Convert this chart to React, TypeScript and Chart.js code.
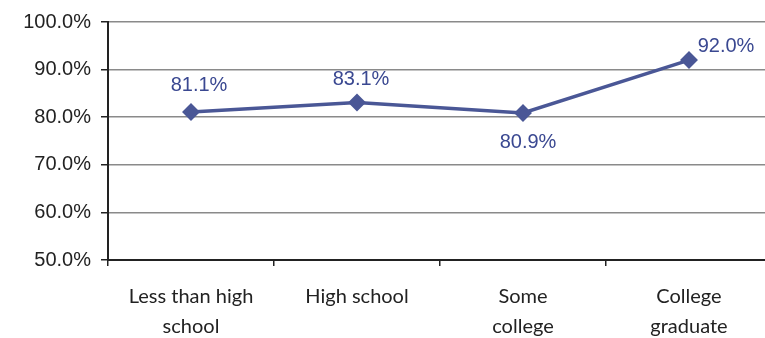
import React, { useEffect, useRef } from "react";
import { Chart, registerables } from "chart.js";

Chart.register(...registerables);

const categories: string[][] = [
  ["Less than high", "school"],
  ["High school"],
  ["Some", "college"],
  ["College", "graduate"],
];
const values: number[] = [81.1, 83.1, 80.9, 92.0];
const yTicks: number[] = [50, 60, 70, 80, 90, 100];

const LINE_COLOR = "#4a5796";
const LABEL_COLOR = "#3a4891";

const labelPlugin = {
  id: "pointLabels",
  afterDatasetsDraw(chart: any) {
    const ctx = chart.ctx;
    const meta = chart.getDatasetMeta(0);
    ctx.save();
    ctx.font = "20px 'Liberation Sans', Arial, sans-serif";
    ctx.fillStyle = LABEL_COLOR;
    ctx.textAlign = "center";
    ctx.textBaseline = "middle";
    const offsets = [
      [8, -26],
      [4, -23],
      [5, 30],
      [37, -14],
    ];
    meta.data.forEach((pt: any, i: number) => {
      const [dx, dy] = offsets[i];
      ctx.fillText(values[i].toFixed(1) + "%", pt.x + dx, pt.y + dy);
    });
    ctx.restore();
  },
};

export default function App() {
  const ref = useRef<HTMLCanvasElement | null>(null);
  useEffect(() => {
    if (!ref.current) return;
    const chart = new Chart(ref.current, {
      type: "line",
      data: {
        labels: categories,
        datasets: [
          {
            data: values,
            borderColor: LINE_COLOR,
            backgroundColor: LINE_COLOR,
            borderWidth: 3.5,
            pointStyle: "rectRot",
            pointRadius: 6.5,
            pointBackgroundColor: LINE_COLOR,
            pointBorderColor: LINE_COLOR,
            tension: 0,
          },
        ],
      },
      options: {
        animation: false,
        responsive: false,
        maintainAspectRatio: false,
        layout: { padding: { top: 19, right: 0, left: 0, bottom: 0 } },
        plugins: { legend: { display: false }, tooltip: { enabled: false } },
        scales: {
          x: {
            offset: true,
            grid: {
              offset: true,
              drawOnChartArea: false,
              drawTicks: true,
              tickLength: 6,
              color: "#222",
              lineWidth: 1.5,
            },
            border: { color: "#222", width: 2 },
            ticks: {
              color: "#222",
              font: { family: "Lato, 'Liberation Sans', sans-serif", size: 20, lineHeight: 1.5 },
              padding: 16,
              maxRotation: 0,
              autoSkip: false,
            },
            afterFit(scale: any) {
              scale.height = 78;
            },
          },
          y: {
            min: 50,
            max: 100,
            afterBuildTicks(scale: any) {
              scale.ticks = yTicks.map((v) => ({ value: v }));
            },
            grid: {
              color: "#8a8a8a",
              lineWidth: 1.5,
              drawTicks: true,
              tickLength: 7,
              tickColor: "#222",
            },
            border: { color: "#222", width: 2 },
            ticks: {
              color: "#222",
              font: { family: "'Liberation Sans', Arial, sans-serif", size: 20 },
              padding: 10,
              callback: (v: any) => Number(v).toFixed(1) + "%",
            },
            afterFit(scale: any) {
              scale.width = 108;
            },
          },
        },
      },
      plugins: [labelPlugin],
    });
    return () => chart.destroy();
  }, []);
  return (
    <div style={{ position: "fixed", left: 0, top: 0, width: 765, height: 338, background: "#fff", overflow: "hidden" }}>
      <canvas ref={ref} width={782} height={338} style={{ width: 782, height: 338, display: "block" }} />
    </div>
  );
}
